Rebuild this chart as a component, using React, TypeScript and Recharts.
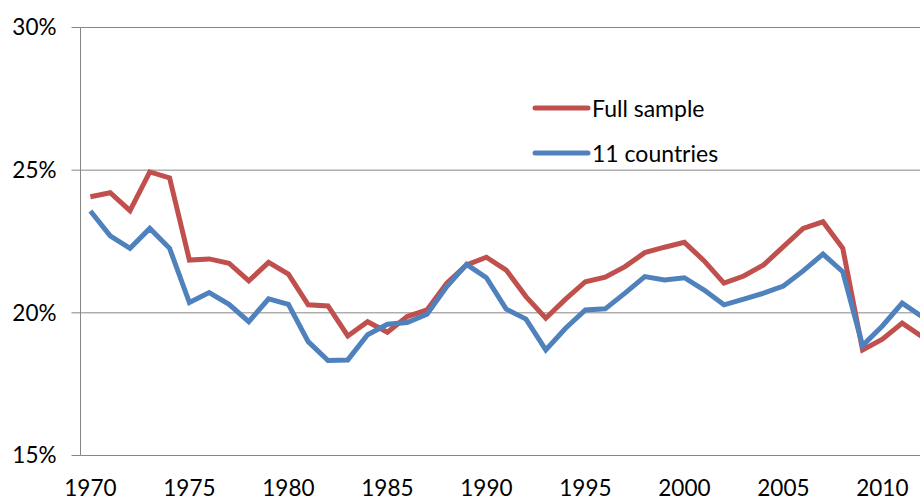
import { LineChart, Line, XAxis, YAxis, CartesianGrid, Legend } from "recharts";

// Years shown on the category axis (data runs past the right edge, as in the source image)
const YEARS = [
  1970, 1971, 1972, 1973, 1974, 1975, 1976, 1977, 1978, 1979,
  1980, 1981, 1982, 1983, 1984, 1985, 1986, 1987, 1988, 1989,
  1990, 1991, 1992, 1993, 1994, 1995, 1996, 1997, 1998, 1999,
  2000, 2001, 2002, 2003, 2004, 2005, 2006, 2007, 2008, 2009,
  2010, 2011, 2012,
];

const FULL_SAMPLE = [
  24.07, 24.21, 23.58, 24.94, 24.73, 21.85, 21.89, 21.74, 21.12, 21.77,
  21.36, 20.28, 20.24, 19.19, 19.69, 19.32, 19.87, 20.1, 21.04, 21.68,
  21.95, 21.5, 20.57, 19.81, 20.48, 21.09, 21.25, 21.62, 22.11, 22.3,
  22.47, 21.82, 21.04, 21.29, 21.68, 22.32, 22.96, 23.19, 22.26, 18.7,
  19.08, 19.64, 19.17,
];

const ELEVEN_COUNTRIES = [
  23.57, 22.7, 22.26, 22.96, 22.26, 20.36, 20.71, 20.3, 19.69, 20.49,
  20.3, 18.99, 18.33, 18.35, 19.23, 19.6, 19.66, 19.95, 20.92, 21.7,
  21.23, 20.13, 19.78, 18.7, 19.46, 20.1, 20.14, 20.69, 21.27, 21.15,
  21.23, 20.8, 20.28, 20.48, 20.69, 20.94, 21.47, 22.06, 21.44, 18.85,
  19.54, 20.34, 19.87,
];

const SERIES_NAMES = ["Full sample", "11 countries"];
const TICK_YEARS = [1970, 1975, 1980, 1985, 1990, 1995, 2000, 2005, 2010];
const Y_TICKS = [15, 20, 25, 30];

const RED = "#C0504D";
const BLUE = "#4F81BD";
const GRID = "#868686";
const FONT = "Lato, 'Open Sans', sans-serif";

// each year is a category: its point sits in the middle of the slot
const data = YEARS.map((y, i) => ({
  x: y + 0.5,
  full: FULL_SAMPLE[i],
  eleven: ELEVEN_COUNTRIES[i],
}));

const renderLegend = (props: any) => {
  const items = [...(props.payload ?? [])].sort(
    (a: any, b: any) => SERIES_NAMES.indexOf(a.value) - SERIES_NAMES.indexOf(b.value)
  );
  return (
    <div style={{ fontFamily: FONT, fontSize: 23, color: "#000" }}>
      {items.map((it: any) => (
        <div
          key={it.value}
          style={{ display: "flex", alignItems: "center", height: 45.6, lineHeight: "24px" }}
        >
          <svg width={62} height={24}>
            <line
              x1={5}
              x2={58}
              y1={12}
              y2={12}
              stroke={it.color}
              strokeWidth={5}
              strokeLinecap="round"
            />
          </svg>
          <span>{it.value}</span>
        </div>
      ))}
    </div>
  );
};

export default function App() {
  return (
    <div
      style={{
        position: "absolute",
        left: 0,
        top: 0,
        width: 920,
        height: 502,
        background: "#fff",
        overflow: "hidden",
      }}
    >
      <LineChart
        width={920}
        height={502}
        data={data}
        margin={{ top: 27.5, right: 0, bottom: 0, left: 0 }}
      >
        <CartesianGrid horizontal vertical={false} stroke={GRID} strokeWidth={1} />
        <XAxis
          xAxisId="marks"
          dataKey="x"
          type="number"
          domain={[1970, 2012.4]}
          allowDataOverflow
          ticks={TICK_YEARS}
          tick={false}
          height={0}
          tickSize={8}
          stroke={GRID}
          axisLine={{ stroke: GRID }}
          tickLine={{ stroke: GRID }}
        />
        <XAxis
          xAxisId="labels"
          dataKey="x"
          type="number"
          domain={[1970, 2012.4]}
          allowDataOverflow
          ticks={TICK_YEARS.map((y) => y + 0.5)}
          tickFormatter={(v: number) => String(Math.floor(v))}
          interval={0}
          height={46.5}
          tickSize={8}
          tickMargin={17}
          axisLine={false}
          tickLine={false}
          tick={{ fill: "#000", fontSize: 22.5, fontFamily: FONT }}
        />
        <YAxis
          domain={[15, 30]}
          ticks={Y_TICKS}
          interval={0}
          width={80.5}
          tickSize={9}
          tickMargin={15}
          tickFormatter={(v: number) => `${v}%`}
          axisLine={{ stroke: GRID }}
          tickLine={{ stroke: GRID }}
          tick={{ fill: "#000", fontSize: 22.5, fontFamily: FONT }}
        />
        <Legend
          layout="horizontal"
          verticalAlign="middle"
          align="center"
          content={renderLegend}
          wrapperStyle={{ position: "absolute", left: 530, top: 84.9, width: "auto", height: "auto" }}
        />
        <Line
          xAxisId="marks"
          dataKey="full"
          name="Full sample"
          stroke={RED}
          strokeWidth={5}
          dot={false}
          activeDot={false}
          isAnimationActive={false}
        />
        <Line
          xAxisId="marks"
          dataKey="eleven"
          name="11 countries"
          stroke={BLUE}
          strokeWidth={5}
          dot={false}
          activeDot={false}
          isAnimationActive={false}
        />
      </LineChart>
    </div>
  );
}
